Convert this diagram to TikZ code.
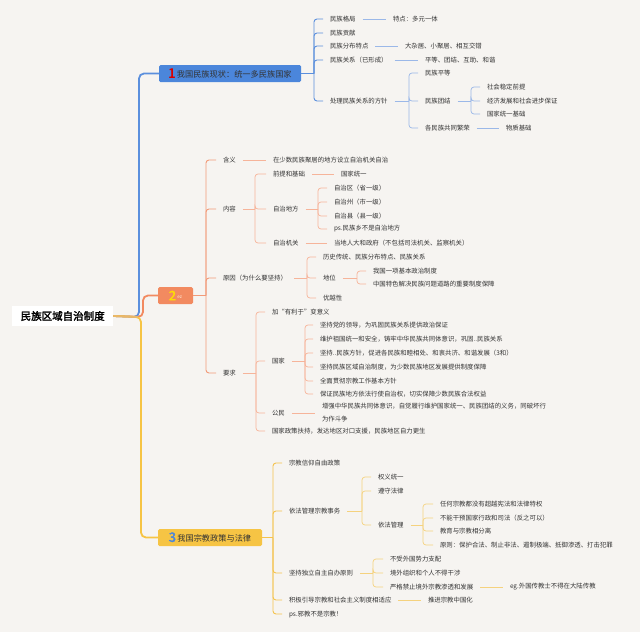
\documentclass[tikz,border=0pt]{standalone}
\usepackage{fontspec}
\setmainfont{Noto Sans CJK SC}[AutoFakeBold=2.5]
\usetikzlibrary{calc}
\definecolor{bg}{HTML}{F6F4F1}
\definecolor{txt}{HTML}{333333}
\definecolor{bbox}{HTML}{4B86DB}
\definecolor{bmain}{HTML}{5B8FDD}
\definecolor{bleaf}{HTML}{9BB8E8}
\definecolor{obox}{HTML}{F28A60}
\definecolor{omain}{HTML}{F29A78}
\definecolor{oleaf}{HTML}{F6B49A}
\definecolor{ybox}{HTML}{F6C444}
\definecolor{ymain}{HTML}{F4C34E}
\definecolor{yleaf}{HTML}{F5D27E}
\definecolor{rootline}{HTML}{E9B868}
\newcommand\fan[4]{%
  \coordinate (fanbar) at (#3,0);
  \draw[#1] (#2.east) -- (#2.east -| fanbar);
  \foreach \k in {#4}{\draw[#1,rounded corners=3pt] (#2.east -| fanbar) |- (\k.west);}}
\begin{document}
\begin{tikzpicture}[x=1pt,y=-1pt,
  tx/.style={anchor=west,inner sep=1pt,outer xsep=6pt,xshift=-7pt,
    font=\fontsize{6.4}{13}\selectfont,text=txt},
  boxst/.style={anchor=west,inner sep=0pt,outer sep=0pt,rounded corners=1.5pt,
    minimum height=17pt,font=\fontsize{8.2}{9}\selectfont,text=txt},
  lb1/.style={draw=bmain,line width=0.9pt},
  lb2/.style={draw=bleaf,line width=0.7pt},
  lo1/.style={draw=omain,line width=0.9pt},
  lo2/.style={draw=oleaf,line width=0.7pt},
  ly1/.style={draw=ymain,line width=0.9pt},
  ly2/.style={draw=yleaf,line width=0.7pt},
  trunk/.style={line width=1.8pt,rounded corners=5pt}]
\fill[bg] (0,0) rectangle (640,632);
\useasboundingbox (0,0) rectangle (640,632);

% root and main boxes
\node[anchor=west,fill=white,inner sep=0pt,minimum width=101pt,minimum height=20pt,
  font=\fontsize{10.5}{11}\selectfont\bfseries,text=black] (root) at (12,316) {民族区域自治制度};
\node[boxst,fill=bbox,minimum width=142pt] (B1) at (159,73.5)
  {\textcolor{red!85!black}{\fontsize{13}{13}\selectfont\bfseries 1}\,我国民族现状：统一多民族国家};
\node[boxst,fill=obox,minimum width=35pt] (B2) at (158,295.5)
  {\textcolor{yellow!80!orange}{\fontsize{13}{13}\selectfont\bfseries 2}\,\raisebox{2pt}{\textcolor{white!85!orange}{\fontsize{4.5}{5}\selectfont ez}}};
\node[boxst,fill=ybox,minimum width=104pt] (B3) at (158,537.5)
  {\textcolor{bbox}{\fontsize{13}{13}\selectfont\bfseries 3}\,我国宗教政策与法律};

\draw[trunk,draw=bmain] (root.east) -- (139,317) |- (B1.west);
\draw[trunk,draw=obox] (root.east) -- (143,317) |- (B2.west);
\draw[trunk,draw=ybox] (root.east) -- (141,317) |- (B3.west);
\draw[line width=1.8pt,draw=rootline] (root.east) -- (138,317);

% branch 1
\node[tx] (a1) at (330,19) {民族格局};
\node[tx] (a1c) at (393,19) {特点：多元一体};
\node[tx] (a2) at (330,33) {民族贡献};
\node[tx] (a3) at (330,46) {民族分布特点};
\node[tx] (a3c) at (405,46) {大杂居、小聚居、相互交错};
\node[tx] (a4) at (330,60) {民族关系（已形成）};
\node[tx] (a4c) at (425,60) {平等、团结、互助、和谐};
\node[tx] (a5) at (330,101) {处理民族关系的方针};
\node[tx] (a51) at (425,73) {民族平等};
\node[tx] (a52) at (425,101) {民族团结};
\node[tx] (a53) at (425,128) {各民族共同繁荣};
\node[tx] (a521) at (487,87) {社会稳定前提};
\node[tx] (a522) at (487,101) {经济发展和社会进步保证};
\node[tx] (a523) at (487,114) {国家统一基础};
\node[tx] (a53c) at (506,128) {物质基础};
\fan{lb1}{B1}{314}{a1,a2,a3,a4,a5}
\draw[lb2] (a1.east) -- (a1c.west);
\draw[lb2] (a3.east) -- (a3c.west);
\draw[lb2] (a4.east) -- (a4c.west);
\fan{lb2}{a5}{409}{a51,a52,a53}
\fan{lb2}{a52}{471}{a521,a522,a523}
\draw[lb2] (a53.east) -- (a53c.west);

% branch 2
\node[tx] (b1) at (223,160) {含义};
\node[tx] (b1c) at (273,160) {在少数民族聚居的地方设立自治机关自治};
\node[tx] (b2) at (223,209) {内容};
\node[tx] (b21) at (273,174) {前提和基础};
\node[tx] (b21c) at (341,174) {国家统一};
\node[tx] (b22) at (273,209) {自治地方};
\node[tx] (b221) at (334,188) {自治区（省一级）};
\node[tx] (b222) at (334,202) {自治州（市一级）};
\node[tx] (b223) at (334,216) {自治县（县一级）};
\node[tx] (b224) at (334,229) {ps.民族乡不是自治地方};
\node[tx] (b23) at (273,243) {自治机关};
\node[tx] (b23c) at (334,243) {当地人大和政府（不包括司法机关、监察机关）};
\node[tx] (b3) at (223,278) {原因（为什么要坚持）};
\node[tx] (b31) at (323,257) {历史传统、民族分布特点、民族关系};
\node[tx] (b32) at (323,278) {地位};
\node[tx] (b321) at (373,271) {我国一项基本政治制度};
\node[tx] (b322) at (373,284) {中国特色解决民族问题道路的重要制度保障};
\node[tx] (b33) at (323,298) {优越性};
\node[tx] (b4) at (223,373) {要求};
\node[tx] (b41) at (272,312) {加“有利于”变意义};
\node[tx] (b42) at (272,361) {国家};
\node[tx] (b421) at (320,325) {坚持党的领导，为巩固民族关系提供政治保证};
\node[tx] (b422) at (320,339) {维护祖国统一和安全，铸牢中华民族共同体意识，巩固..民族关系};
\node[tx] (b423) at (320,353) {坚持..民族方针，促进各民族和睦相处、和衷共济、和谐发展（3和）};
\node[tx] (b424) at (320,367) {坚持民族区域自治制度，为少数民族地区发展提供制度保障};
\node[tx] (b425) at (320,381) {全面贯彻宗教工作基本方针};
\node[tx] (b426) at (320,394) {保证民族地方依法行使自治权，切实保障少数民族合法权益};
\node[tx] (b43) at (272,413) {公民};
\node[tx,align=left] (b43c) at (322,413) {增强中华民族共同体意识，自觉履行维护国家统一、民族团结的义务，同破坏行\\为作斗争};
\node[tx] (b44) at (272,431) {国家政策扶持，发达地区对口支援，民族地区自力更生};
\fan{lo1}{B2}{206}{b1,b2,b3,b4}
\draw[lo2] (b1.east) -- (b1c.west);
\fan{lo2}{b2}{255}{b21,b22,b23}
\draw[lo2] (b21.east) -- (b21c.west);
\fan{lo2}{b22}{318}{b221,b222,b223,b224}
\draw[lo2] (b23.east) -- (b23c.west);
\fan{lo2}{b3}{307}{b31,b32,b33}
\fan{lo2}{b32}{357}{b321,b322}
\fan{lo2}{b4}{256}{b41,b42,b43,b44}
\fan{lo2}{b42}{305}{b421,b422,b423,b424,b425,b426}
\draw[lo2] (b43.east) -- (b43c.west);

% branch 3
\node[tx] (c1) at (289,463) {宗教信仰自由政策};
\node[tx] (c2) at (289,511) {依法管理宗教事务};
\node[tx] (c21) at (378,477) {权义统一};
\node[tx] (c22) at (378,491) {遵守法律};
\node[tx] (c23) at (378,525) {依法管理};
\node[tx] (c231) at (440,504) {任何宗教都没有超越宪法和法律特权};
\node[tx] (c232) at (440,518) {不能干预国家行政和司法（反之可以）};
\node[tx] (c233) at (440,531) {教育与宗教相分离};
\node[tx] (c234) at (440,545) {原则：保护合法、制止非法、遏制极端、抵御渗透、打击犯罪};
\node[tx] (c3) at (289,573) {坚持独立自主自办原则};
\node[tx] (c31) at (390,559) {不受外国势力支配};
\node[tx] (c32) at (390,573) {境外组织和个人不得干涉};
\node[tx] (c33) at (390,587) {严格禁止境外宗教渗透和发展};
\node[tx] (c33c) at (510,587) {eg.外国传教士不得在大陆传教};
\node[tx] (c4) at (289,600) {积极引导宗教和社会主义制度相适应};
\node[tx] (c4c) at (428,600) {推进宗教中国化};
\node[tx] (c5) at (289,614) {ps.邪教不是宗教！};
\fan{ly1}{B3}{273}{c1,c2,c3,c4,c5}
\fan{ly2}{c2}{362}{c21,c22,c23}
\fan{ly2}{c23}{423}{c231,c232,c233,c234}
\fan{ly2}{c3}{373}{c31,c32,c33}
\draw[ly2] (c33.east) -- (c33c.west);
\draw[ly2] (c4.east) -- (c4c.west);
\end{tikzpicture}
\end{document}
